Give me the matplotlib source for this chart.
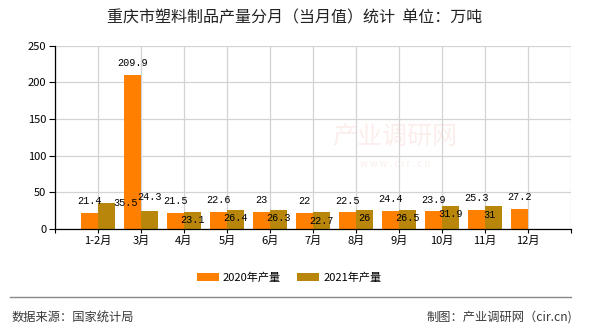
import numpy as np
import matplotlib
matplotlib.use("Agg")
import matplotlib.pyplot as plt
from matplotlib.lines import Line2D

plt.rcParams["font.family"] = ["Noto Sans CJK SC", "DejaVu Sans"]

months = ["1-2月", "3月", "4月", "5月", "6月", "7月", "8月", "9月", "10月", "11月", "12月"]
out_2020 = [21.4, 209.9, 21.5, 22.6, 23, 22, 22.5, 24.4, 23.9, 25.3, 27.2]
out_2021 = [35.5, 24.3, 23.1, 26.4, 26.3, 22.7, 26, 26.5, 31.9, 31, np.nan]
yticks = [0, 50, 100, 150, 200, 250]

C20, C21 = "#ff8000", "#b8860b"
W = 0.4
# label offsets in points for the 2021 bars (collision-avoided placement)
off21 = [(13.5, 0), (0, 10), (0, -6), (0, -6), (0, -6), (0, -6), (0, -6), (0, -6), (0, -6), (-3, -6), (0, -6)]

fig = plt.figure(figsize=(5.9, 3.3), dpi=100)
ax = fig.add_axes([0.0932, 0.3061, 0.8746, 0.5555])
x = np.arange(len(months))
b1 = ax.bar(x - W / 2, out_2020, W, color=C20, label="2020年产量", zorder=3)
b2 = ax.bar(x + W / 2, out_2021, W, color=C21, label="2021年产量", zorder=3)

lab = dict(fontsize=7.3, family="Liberation Mono", ha="center", va="center", color="black", zorder=5)
for xi, v in zip(x, out_2020):
    ax.annotate(f"{v:g}", (xi - W / 2, v), xytext=(0, 8.6), textcoords="offset points", **lab)
for xi, v, o in zip(x, out_2021, off21):
    if v == v:
        ax.annotate(f"{v:g}", (xi + W / 2, v), xytext=o, textcoords="offset points", **lab)

ax.set_xlim(-1, 11)
ax.set_ylim(0, 250)
ax.set_xticks(np.arange(-1, 12))
ax.set_xticklabels([""] + months + [""], fontsize=8)
ax.set_yticks(yticks)
ax.set_yticklabels([str(t) for t in yticks], fontsize=8)
ax.tick_params(axis="y", length=4.3, width=0.8, pad=2)
ax.tick_params(axis="x", length=2.6, width=0.8, pad=2)
ax.grid(True, color="#d3d3d3", linewidth=0.9, zorder=0)
ax.set_axisbelow(True)
for s in ("top", "right"):
    ax.spines[s].set_visible(False)
for s in ("left", "bottom"):
    ax.spines[s].set_linewidth(0.9)
    ax.spines[s].set_zorder(4)

# faint site watermark
ax.text(6.9, 125, "产业调研网", fontsize=18, color="#f4c8c0", alpha=0.3, ha="center", va="center", zorder=1)
ax.text(6.9, 88, "w w w . c i r . c n", fontsize=7, color="#f4c8c0", alpha=0.3, ha="center", va="center", zorder=1)

fig.text(0.5, 0.947, "重庆市塑料制品产量分月（当月值）统计  单位：万吨", fontsize=11.5,
         ha="center", va="center", color="#222222")

fig.legend(handles=[b1, b2], loc="center", bbox_to_anchor=(0.49, 0.16), ncol=2, frameon=False,
           fontsize=8, handlelength=2.0, handleheight=0.75, handletextpad=0.35, columnspacing=1.45)

fig.add_artist(Line2D([10 / 590, 571 / 590], [0.099, 0.099], color="#888888", linewidth=1.0,
                      transform=fig.transFigure))
fig.text(12 / 590, 0.04, "数据来源：国家统计局", fontsize=8.8, ha="left", va="center", color="#3a3a3a")
fig.text(572 / 590, 0.04, "制图：产业调研网（cir.cn)", fontsize=8.8, ha="right", va="center", color="#3a3a3a")

fig.savefig("out.png", dpi=100, facecolor="white")
